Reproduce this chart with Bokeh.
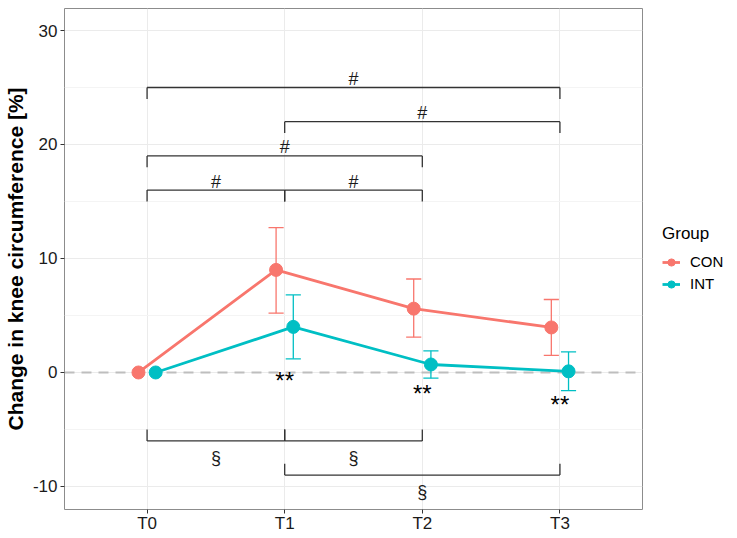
import numpy as np
from bokeh.plotting import figure
from bokeh.models import Range1d, FixedTicker, Legend, LegendItem, Span, ColumnDataSource
from bokeh.core.properties import value
from bokeh.embed import file_html
from bokeh.resources import INLINE

# ---- data ----
categories = ["T0", "T1", "T2", "T3"]
con_mean = [0.0, 9.0, 5.6, 3.95]
con_lower = [0.0, 5.2, 3.1, 1.5]
con_upper = [0.0, 12.7, 8.2, 6.4]
int_mean = [0.0, 4.0, 0.7, 0.1]
int_lower = [0.0, 1.2, -0.5, -1.6]
int_upper = [0.0, 6.8, 1.9, 1.8]
y_ticks = [-10, 0, 10, 20, 30]
y_tick_labels = ["-10", "0", "10", "20", "30"]

# significance brackets (category index from/to, level, label)
top_from = [0, 1, 0, 0, 1]
top_to = [3, 3, 2, 1, 2]
top_y = [25, 22, 19, 16, 16]
top_label = ["#", "#", "#", "#", "#"]
bot_from = [0, 1, 1]
bot_to = [1, 2, 3]
bot_y = [-6, -6, -9]
bot_label = ["§", "§", "§"]
star_cat = [1, 2, 3]
star_y = [-0.72, -1.85, -2.85]
star_label = ["**", "**", "**"]

CON_COL = "#F8766D"
INT_COL = "#00BFC4"
FONT = "Liberation Sans"
DODGE = 0.0625
CAP = 0.055
TICK = 1.0

p = figure(frame_width=578, frame_height=501, output_backend="svg", toolbar_location=None,
           x_range=Range1d(-0.6, 3.6), y_range=Range1d(-12.02, 31.93),
           min_border_left=50, min_border_right=10, min_border_top=8, min_border_bottom=21)
p.background_fill_color = "white"
p.border_fill_color = "white"
p.outline_line_color = "#8C8C8C"
p.outline_line_width = 1

# grid
p.xgrid.ticker = FixedTicker(ticks=list(range(len(categories))))
p.xgrid.grid_line_color = "#EBEBEB"
p.xgrid.grid_line_width = 1
p.ygrid.grid_line_color = "#EBEBEB"
p.ygrid.grid_line_width = 1
p.ygrid.minor_grid_line_color = "#F4F4F4"
p.ygrid.minor_grid_line_width = 1

# axes
p.xaxis.ticker = FixedTicker(ticks=list(range(len(categories))))
p.xaxis.major_label_overrides = {i: c for i, c in enumerate(categories)}
p.yaxis.ticker = FixedTicker(ticks=y_ticks, minor_ticks=[-5, 5, 15, 25])
p.yaxis.major_label_overrides = {t: l for t, l in zip(y_ticks, y_tick_labels)}
for ax in (p.xaxis, p.yaxis):
    ax.axis_line_color = None
    ax.major_tick_line_color = "#333333"
    ax.major_tick_out = 4
    ax.major_tick_in = 0
    ax.minor_tick_line_color = None
    ax.major_label_text_font = FONT
    ax.major_label_text_font_size = "17px"
    ax.major_label_text_color = "#1A1A1A"
p.xaxis.major_label_standoff = 0
p.yaxis.major_label_standoff = 3
p.yaxis.axis_label = "Change in knee circumference [%]"
p.yaxis.axis_label_text_font = FONT
p.yaxis.axis_label_text_font_style = "bold"
p.yaxis.axis_label_text_font_size = "21px"
p.yaxis.axis_label_text_color = "black"
p.yaxis.axis_label_standoff = 3

# zero reference line
zero = Span(location=0, dimension="width", line_color="#BEBEBE", line_dash="10 7", line_width=2.2)
zero.level = "underlay"
p.add_layout(zero)

x = np.arange(len(categories), dtype=float)

def group(xs, mean, lo, hi, col):
    lo = np.array(lo); hi = np.array(hi)
    m = hi > lo
    src = ColumnDataSource(dict(x=xs[m], lo=lo[m], hi=hi[m]))
    p.segment(x0="x", y0="lo", x1="x", y1="hi", source=src, line_color=col, line_width=1.3)
    p.segment(x0=xs[m] - CAP, y0=lo[m], x1=xs[m] + CAP, y1=lo[m], line_color=col, line_width=1.3)
    p.segment(x0=xs[m] - CAP, y0=hi[m], x1=xs[m] + CAP, y1=hi[m], line_color=col, line_width=1.3)
    ln = p.line(xs, mean, line_color=col, line_width=2.8)
    pt = p.scatter(xs, mean, size=13, fill_color=col, line_color=col)
    return ln, pt

con_ln, con_pt = group(x - DODGE, con_mean, con_lower, con_upper, CON_COL)
int_ln, int_pt = group(x + DODGE, int_mean, int_lower, int_upper, INT_COL)

# brackets
BR_COL = "#333333"
tf = np.array(top_from, float); tt = np.array(top_to, float); ty = np.array(top_y, float)
p.segment(tf, ty, tt, ty, line_color=BR_COL, line_width=1.3)
p.segment(tf, ty, tf, ty - TICK, line_color=BR_COL, line_width=1.3)
p.segment(tt, ty, tt, ty - TICK, line_color=BR_COL, line_width=1.3)
p.text(x=(tf + tt) / 2, y=ty + 0.75, text=top_label, text_align="center", text_baseline="alphabetic",
       text_font=value(FONT), text_font_size="18px", text_color="#1A1A1A")

bf = np.array(bot_from, float); bt = np.array(bot_to, float); by = np.array(bot_y, float)
p.segment(bf, by, bt, by, line_color=BR_COL, line_width=1.3)
p.segment(bf, by, bf, by + TICK, line_color=BR_COL, line_width=1.3)
p.segment(bt, by, bt, by + TICK, line_color=BR_COL, line_width=1.3)
p.text(x=(bf + bt) / 2, y=by - 1.5, text=bot_label, text_align="center", text_baseline="alphabetic",
       text_font=value(FONT), text_font_size="18px", text_color="#1A1A1A")

p.text(x=np.array(star_cat, float), y=star_y, text=star_label, text_align="center", text_baseline="alphabetic",
       text_font=value(FONT), text_font_size="24px", text_color="black")

legend = Legend(items=[LegendItem(label="CON", renderers=[con_ln, con_pt]),
                       LegendItem(label="INT", renderers=[int_ln, int_pt])],
                title="Group", location="center_left")
legend.title_text_font = FONT
legend.title_text_font_size = "17px"
legend.title_text_font_style = "normal"
legend.title_text_color = "black"
legend.title_standoff = 8
legend.label_text_font = FONT
legend.label_text_font_size = "15px"
legend.label_text_color = "black"
legend.label_standoff = 10
legend.glyph_width = 18
legend.glyph_height = 20
legend.spacing = 2
legend.padding = 6
legend.margin = 20
legend.border_line_color = None
legend.background_fill_color = None
p.add_layout(legend, "right")

open("out.html", "w").write(file_html(p, INLINE))
